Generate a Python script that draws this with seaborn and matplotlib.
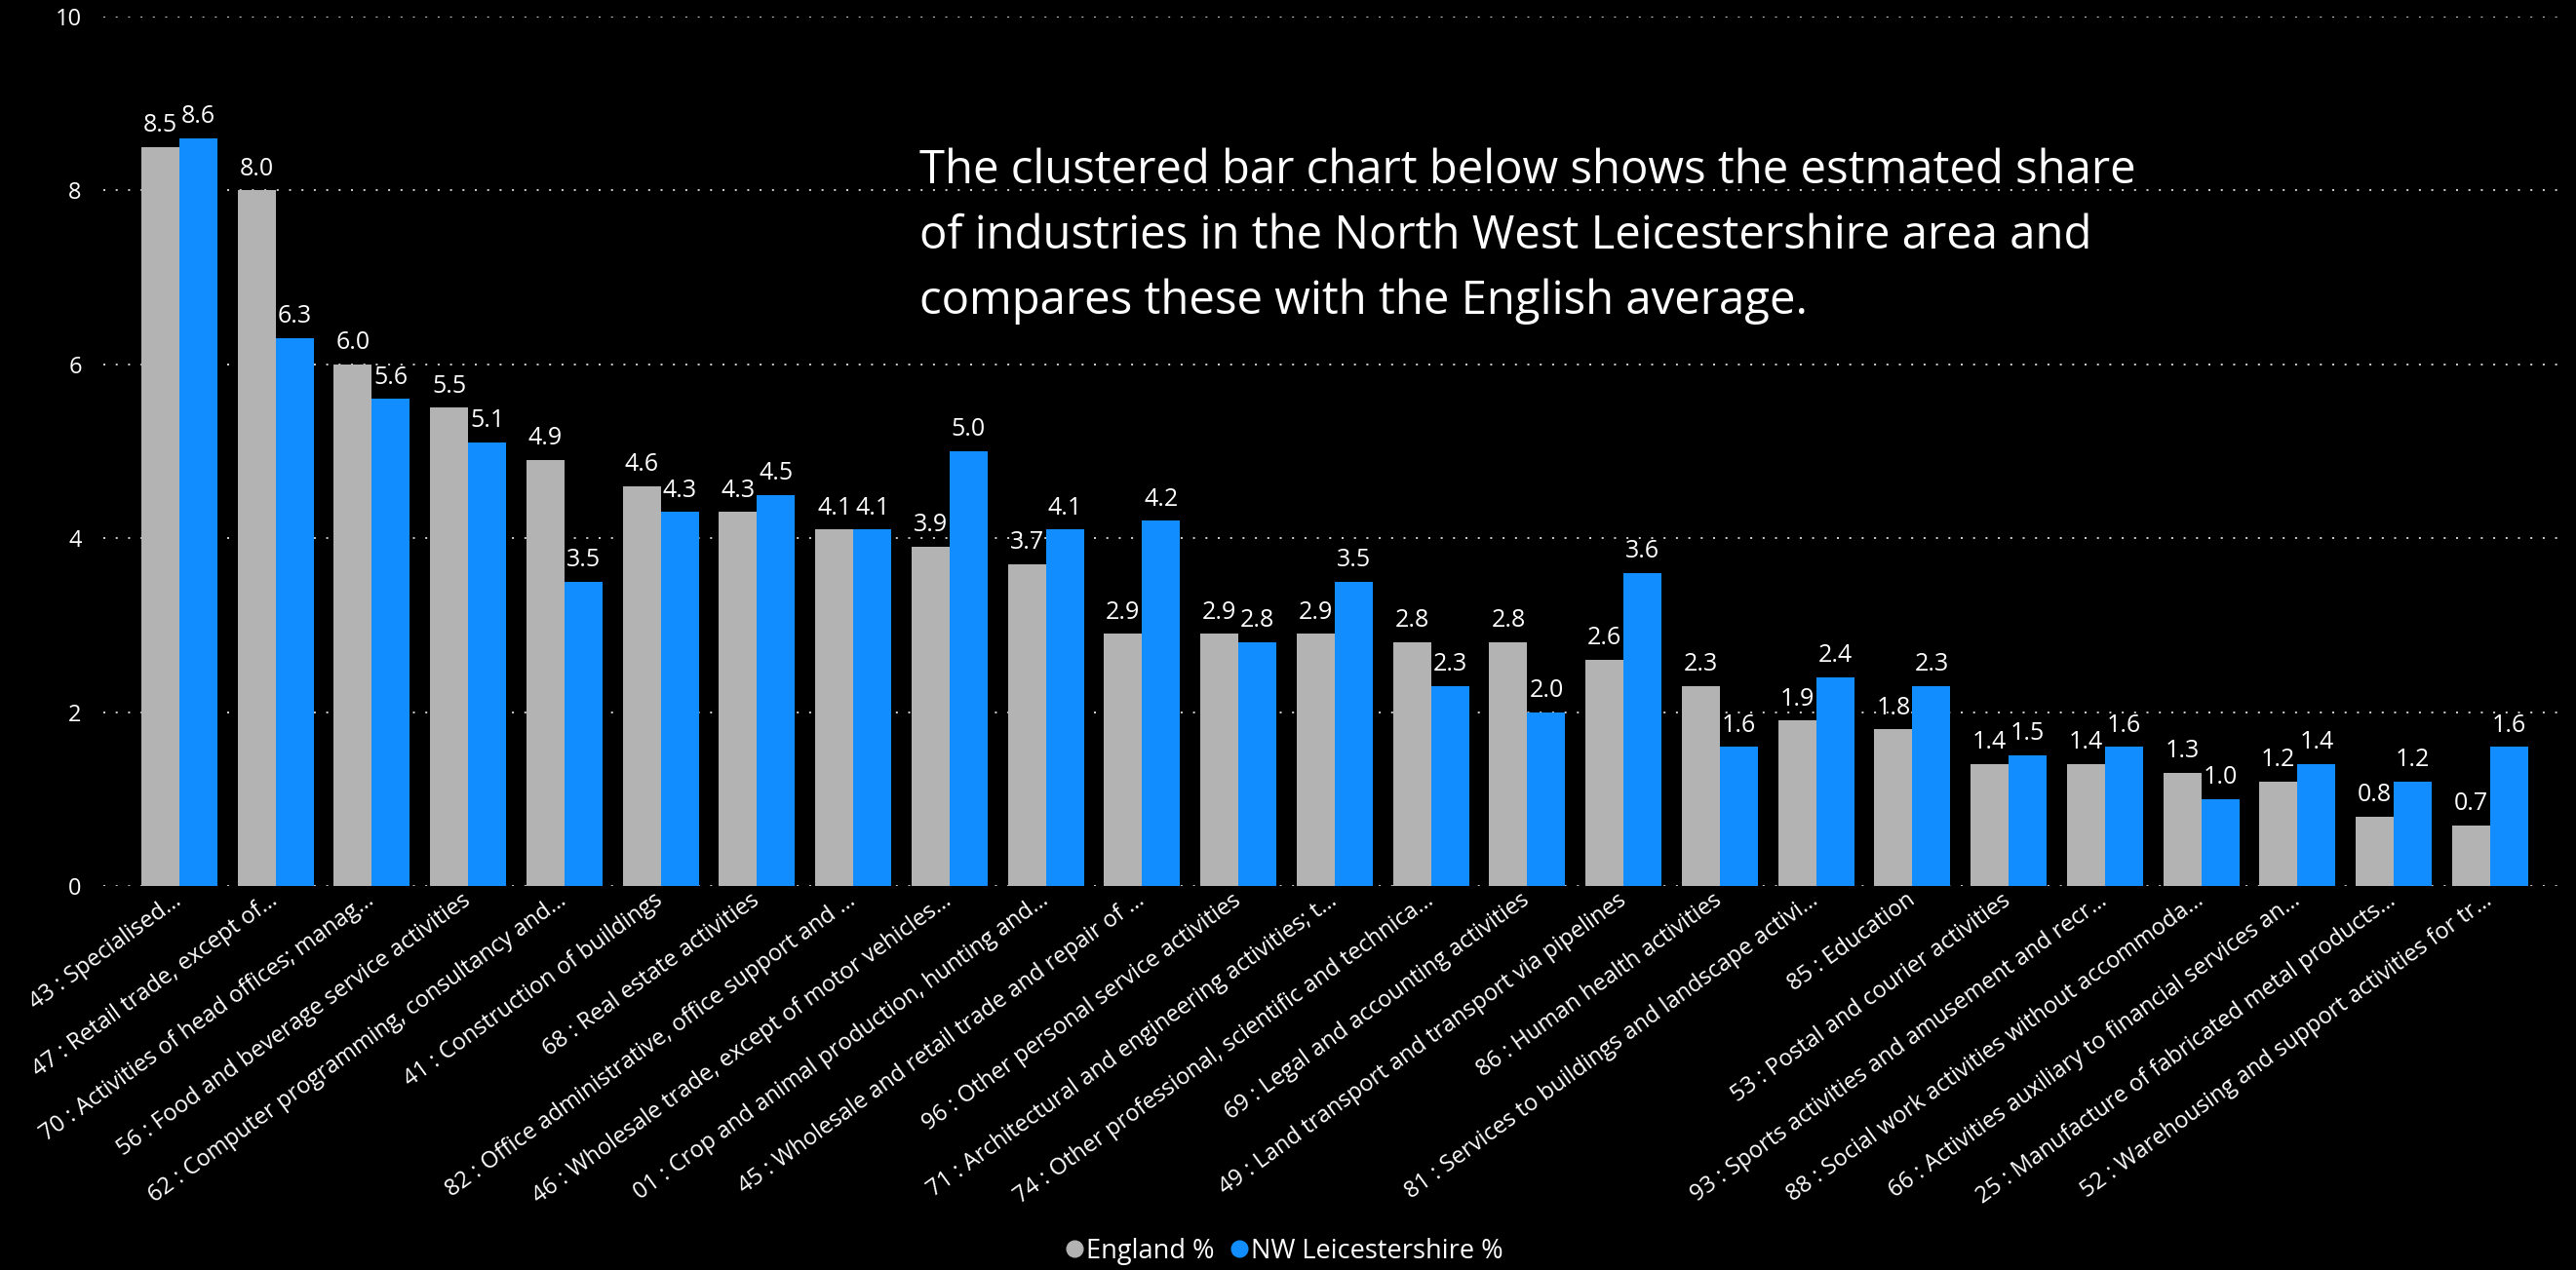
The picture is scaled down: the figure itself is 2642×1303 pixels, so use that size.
import pandas as pd
import matplotlib.pyplot as plt
import seaborn as sns
from matplotlib.lines import Line2D

# --- data ---
INDUSTRIES = [
    "43 : Specialised…",
    "47 : Retail trade, except of…",
    "70 : Activities of head offices; manag…",
    "56 : Food and beverage service activities",
    "62 : Computer programming, consultancy and…",
    "41 : Construction of buildings",
    "68 : Real estate activities",
    "82 : Office administrative, office support and …",
    "46 : Wholesale trade, except of motor vehicles…",
    "01 : Crop and animal production, hunting and…",
    "45 : Wholesale and retail trade and repair of …",
    "96 : Other personal service activities",
    "71 : Architectural and engineering activities; t…",
    "74 : Other professional, scientific and technica…",
    "69 : Legal and accounting activities",
    "49 : Land transport and transport via pipelines",
    "86 : Human health activities",
    "81 : Services to buildings and landscape activi…",
    "85 : Education",
    "53 : Postal and courier activities",
    "93 : Sports activities and amusement and recr…",
    "88 : Social work activities without accommoda…",
    "66 : Activities auxiliary to financial services an…",
    "25 : Manufacture of fabricated metal products…",
    "52 : Warehousing and support activities for tr…",
]
ENGLAND = [8.5, 8.0, 6.0, 5.5, 4.9, 4.6, 4.3, 4.1, 3.9, 3.7, 2.9, 2.9, 2.9,
           2.8, 2.8, 2.6, 2.3, 1.9, 1.8, 1.4, 1.4, 1.3, 1.2, 0.8, 0.7]
NWL = [8.6, 6.3, 5.6, 5.1, 3.5, 4.3, 4.5, 4.1, 5.0, 4.1, 4.2, 2.8, 3.5,
       2.3, 2.0, 3.6, 1.6, 2.4, 2.3, 1.5, 1.6, 1.0, 1.4, 1.2, 1.6]
SERIES = ["England %", "NW Leicestershire %"]
COLORS = ["#B3B3B3", "#118DFF"]
YTICKS = [0, 2, 4, 6, 8, 10]
NOTE = ["The clustered bar chart below shows the estmated share",
        "of industries in the North West Leicestershire area and",
        "compares these with the English average."]

df = pd.DataFrame({
    "industry": INDUSTRIES * 2,
    "series": [SERIES[0]] * len(INDUSTRIES) + [SERIES[1]] * len(INDUSTRIES),
    "value": ENGLAND + NWL,
})

sns.set_style("dark")
plt.rcParams["font.family"] = ["Open Sans", "DejaVu Sans"]
plt.rcParams["figure.facecolor"] = "black"
plt.rcParams["axes.facecolor"] = "black"

fig = plt.figure(figsize=(26.42, 13.03), dpi=100)
ax = fig.add_axes([0.0401, 0.3024, 0.9943 - 0.0401, 0.987 - 0.3024])

sns.barplot(data=df, x="industry", y="value", hue="series", order=INDUSTRIES,
            hue_order=SERIES, palette=COLORS, saturation=1, width=0.79,
            linewidth=0, edgecolor="none", legend=False, ax=ax)

# value labels above each bar
for cont in ax.containers:
    ax.bar_label(cont, fmt="%.1f", padding=7, color="white", fontsize=18)

ax.set_xlim(-0.79, len(INDUSTRIES) - 1 + 0.74)
ax.set_ylim(0, 10)
ax.set_yticks(YTICKS)
ax.set_yticklabels([str(t) for t in YTICKS])
ax.set_xlabel("")
ax.set_ylabel("")
ax.set_axisbelow(True)
ax.grid(axis="y", color="#c8c8c8", linewidth=1.44, linestyle=(0, (1, 5.35)))
ax.grid(axis="x", visible=False)
for s in ax.spines.values():
    s.set_visible(False)

ax.tick_params(axis="y", length=0, pad=16, labelsize=17, labelcolor="white")
ax.tick_params(axis="x", length=0, pad=9, labelsize=17, labelcolor="white")
plt.setp(ax.get_xticklabels(), rotation=36, ha="right", va="center",
         rotation_mode="anchor")

# note text
for i, line in enumerate(NOTE):
    fig.text(943 / 2642, 1 - (188 + 67 * i) / 1303, line, color="white",
             fontsize=34, ha="left", va="baseline")

handles = [Line2D([], [], marker="o", linestyle="", markersize=12,
                  markerfacecolor=c, markeredgecolor=c) for c in COLORS]
leg = fig.legend(handles, SERIES, loc="center", bbox_to_anchor=(0.4985, 0.0146),
                 ncol=2, frameon=False, fontsize=19.5, handlelength=0.7,
                 handletextpad=0.1, columnspacing=0.6, labelcolor="white")

fig.savefig("out.png", dpi=100, facecolor="black")
